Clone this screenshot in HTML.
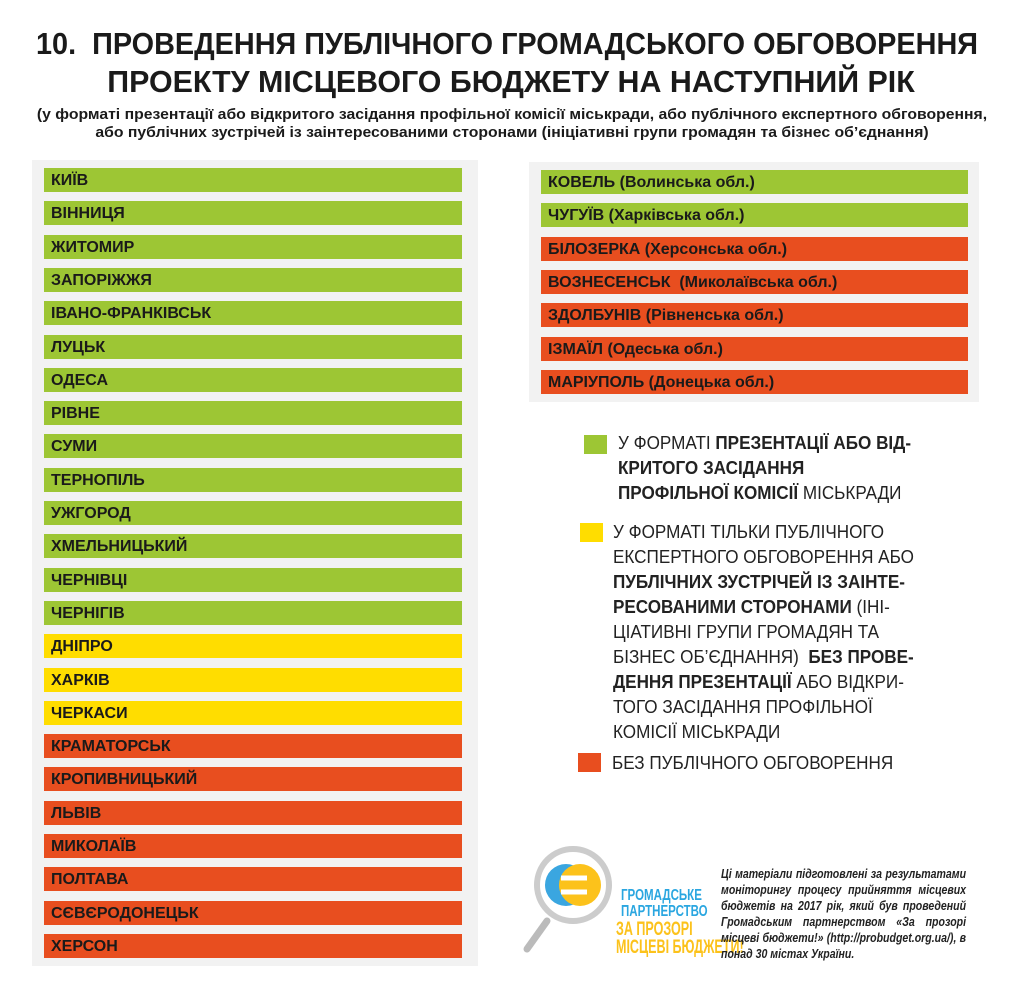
<!DOCTYPE html>
<html><head><meta charset="utf-8"><style>
body{margin:0;width:1024px;height:999px;background:#fff;position:relative;overflow:hidden;font-family:"Liberation Sans","DejaVu Sans Condensed",sans-serif;color:#1a1a1a}
.a{position:absolute;white-space:nowrap}
.t{font-weight:bold;font-size:31px;left:0;width:1024px;text-align:center}
.s{font-weight:bold;font-size:15px;left:0;width:1024px;text-align:center}
.panel{position:absolute;background:#f2f2f2}
.bar{position:absolute;height:24px;font-weight:bold;font-size:16px;line-height:25px;padding-left:7px;box-sizing:border-box;color:#1a1a1a}
.g{background:#9dc634}.y{background:#ffdd00}.o{background:#e84e1f}
.l{position:absolute;font-size:18px;line-height:20px;white-space:nowrap;color:#222;transform:scaleX(0.95);transform-origin:0 0}
.l b{font-weight:bold}
.sq{position:absolute;width:23px;height:19px}
</style></head><body>
<div class="a t" style="top:26px;transform:scaleX(0.93);left:-5px">10.&nbsp; ПРОВЕДЕННЯ ПУБЛІЧНОГО ГРОМАДСЬКОГО ОБГОВОРЕННЯ</div>
<div class="a t" style="top:64px;transform:scaleX(0.98);left:-1px">ПРОЕКТУ МІСЦЕВОГО БЮДЖЕТУ НА НАСТУПНИЙ РІК</div>
<div class="a s" style="top:106px;transform:scaleX(1.05)">(у форматі презентації або відкритого засідання профільної комісії міськради, або публічного експертного обговорення,</div>
<div class="a s" style="top:124px;transform:scaleX(1.05)">або публічних зустрічей із заінтересованими сторонами (ініціативні групи громадян та бізнес об’єднання)</div>
<div class="panel" style="left:32px;top:160px;width:446px;height:806px"></div>
<div class="panel" style="left:529px;top:162px;width:450px;height:240px"></div>
<div id="L"></div>
<div class="sq g" style="left:584px;top:435px"></div>
<div class="l" style="left:618px;top:433px">У ФОРМАТІ <b>ПРЕЗЕНТАЦІЇ АБО ВІД-</b></div>
<div class="l" style="left:618px;top:458px"><b>КРИТОГО ЗАСІДАННЯ</b></div>
<div class="l" style="left:618px;top:483px"><b>ПРОФІЛЬНОЇ КОМІСІЇ</b> МІСЬКРАДИ</div>
<div class="sq y" style="left:580px;top:523px"></div>
<div class="l" style="left:613px;top:522px">У ФОРМАТІ ТІЛЬКИ ПУБЛІЧНОГО</div>
<div class="l" style="left:613px;top:547px">ЕКСПЕРТНОГО ОБГОВОРЕННЯ АБО</div>
<div class="l" style="left:613px;top:572px"><b>ПУБЛІЧНИХ ЗУСТРІЧЕЙ ІЗ ЗАІНТЕ-</b></div>
<div class="l" style="left:613px;top:597px"><b>РЕСОВАНИМИ СТОРОНАМИ</b> (ІНІ-</div>
<div class="l" style="left:613px;top:622px">ЦІАТИВНІ ГРУПИ ГРОМАДЯН ТА</div>
<div class="l" style="left:613px;top:647px">БІЗНЕС ОБ’ЄДНАННЯ)&nbsp; <b>БЕЗ ПРОВЕ-</b></div>
<div class="l" style="left:613px;top:672px"><b>ДЕННЯ ПРЕЗЕНТАЦІЇ</b> АБО ВІДКРИ-</div>
<div class="l" style="left:613px;top:697px">ТОГО ЗАСІДАННЯ ПРОФІЛЬНОЇ</div>
<div class="l" style="left:613px;top:722px">КОМІСІЇ МІСЬКРАДИ</div>
<div class="sq o" style="left:578px;top:753px"></div>
<div class="l" style="left:612px;top:753px">БЕЗ ПУБЛІЧНОГО ОБГОВОРЕННЯ</div>
<svg class="a" style="left:515px;top:843px" width="110" height="115" viewBox="0 0 110 115">
<line x1="32" y1="78" x2="12" y2="106" stroke="#bbb" stroke-width="7" stroke-linecap="round"/>
<circle cx="58" cy="42" r="36" fill="#fff" stroke="#ccc" stroke-width="6"/>
<circle cx="51" cy="42" r="21" fill="#3aa6e0"/>
<circle cx="65" cy="42" r="21" fill="#fcc21b"/>
<path d="M46 35h26M46 49h26" stroke="#fff" stroke-width="5"/>
</svg>
<div class="a" style="left:621px;top:888px;font-weight:bold;font-size:16px;line-height:16px;color:#2aa6e0;transform:scaleX(0.72);transform-origin:0 0">ГРОМАДСЬКЕ<br>ПАРТНЕРСТВО</div>
<div class="a" style="left:616px;top:921px;font-weight:bold;font-size:19px;line-height:18px;color:#fcc21b;transform:scaleX(0.66);transform-origin:0 0">ЗА ПРОЗОРІ<br>МІСЦЕВІ БЮДЖЕТИ!</div>
<div class="a" style="left:721px;top:866px;width:290px;white-space:normal;text-align:justify;font-style:italic;font-weight:bold;font-size:12.5px;line-height:16px;color:#222;transform:scaleX(0.845);transform-origin:0 0">Ці матеріали підготовлені за результатами моніторингу процесу прийняття місцевих бюджетів на 2017 рік, який був проведений Громадським партнерством «За прозорі місцеві бюджети!» (http://probudget.org.ua/), в понад 30 містах України.</div>
<script>
var L=[["КИЇВ","g"],["ВІННИЦЯ","g"],["ЖИТОМИР","g"],["ЗАПОРІЖЖЯ","g"],["ІВАНО-ФРАНКІВСЬК","g"],["ЛУЦЬК","g"],["ОДЕСА","g"],["РІВНЕ","g"],["СУМИ","g"],["ТЕРНОПІЛЬ","g"],["УЖГОРОД","g"],["ХМЕЛЬНИЦЬКИЙ","g"],["ЧЕРНІВЦІ","g"],["ЧЕРНІГІВ","g"],["ДНІПРО","y"],["ХАРКІВ","y"],["ЧЕРКАСИ","y"],["КРАМАТОРСЬК","o"],["КРОПИВНИЦЬКИЙ","o"],["ЛЬВІВ","o"],["МИКОЛАЇВ","o"],["ПОЛТАВА","o"],["СЄВЄРОДОНЕЦЬК","o"],["ХЕРСОН","o"]];
var R=[["КОВЕЛЬ (Волинська обл.)","g"],["ЧУГУЇВ (Харківська обл.)","g"],["БІЛОЗЕРКА (Херсонська обл.)","o"],["ВОЗНЕСЕНСЬК&nbsp; (Миколаївська обл.)","o"],["ЗДОЛБУНІВ (Рівненська обл.)","o"],["ІЗМАЇЛ (Одеська обл.)","o"],["МАРІУПОЛЬ (Донецька обл.)","o"]];
var h="";
L.forEach(function(x,i){h+='<div class="bar '+x[1]+'" style="left:44px;width:418px;top:'+(168+i*33.3).toFixed(1)+'px">'+x[0]+'</div>';});
R.forEach(function(x,i){h+='<div class="bar '+x[1]+'" style="left:541px;width:427px;top:'+(170+i*33.3).toFixed(1)+'px">'+x[0]+'</div>';});
document.getElementById("L").innerHTML=h;
</script>
</body></html>
